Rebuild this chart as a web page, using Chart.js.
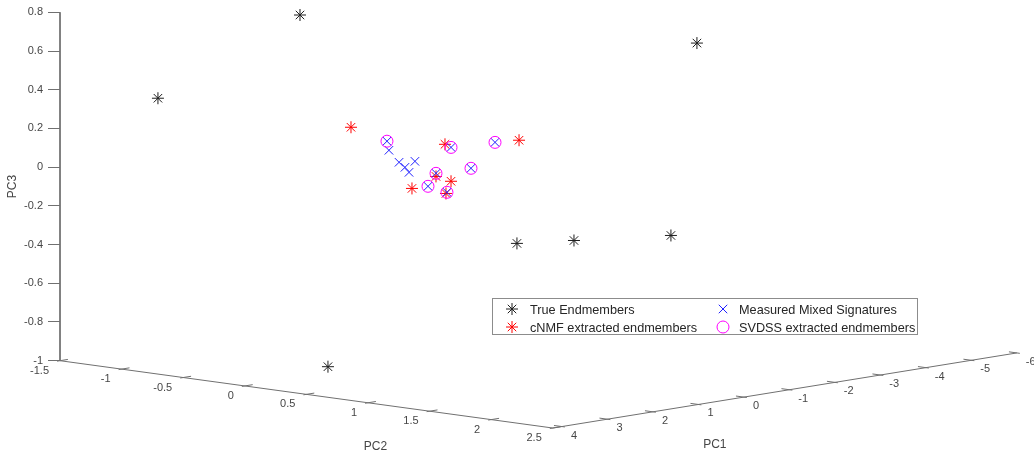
<!DOCTYPE html>
<html>
<head>
<meta charset="utf-8">
<script src="https://cdn.jsdelivr.net/npm/chart.js@4.4.1/dist/chart.umd.min.js"></script>
<style>
  html, body { margin: 0; padding: 0; background: #fff; }
  canvas { display: block; }
</style>
</head>
<body>
<canvas id="chart" width="1034" height="452"></canvas>
<script>
const FONT = '"Liberation Sans", Arial, sans-serif';
const AXIS_COLOR = '#707070';
const TEXT_COLOR = '#464646';

// axis limits and ticks
const pc1Range = [4.2, -6];
const pc2Range = [-1.5, 2.5];
const pc3Range = [-1, 0.8];
const pc1Ticks = [4, 3, 2, 1, 0, -1, -2, -3, -4, -5, -6];
const pc2Ticks = [-1.5, -1, -0.5, 0, 0.5, 1, 1.5, 2, 2.5];
const pc3Ticks = [-1, -0.8, -0.6, -0.4, -0.2, 0, 0.2, 0.4, 0.6, 0.8];

// points, in view coordinates:
// h = position along the PC2 front edge, v = height on the PC3 axis
const trueH = [0.448, -0.705, 0.675, 3.670, 2.209, 2.672, 3.459];
const trueV = [0.786, 0.356, -1.031, 0.641, -0.394, -0.379, -0.353];
const cnmfH = [0.862, 1.625, 2.226, 1.552, 1.674, 1.357, 1.633];
const cnmfV = [0.206, 0.118, 0.139, -0.048, -0.073, -0.110, -0.136];
const mixedH = [1.154, 1.170, 1.252, 1.300, 1.381, 1.333, 1.552, 1.487, 1.641, 1.674, 1.836, 2.031];
const mixedV = [0.134, 0.087, 0.025, -0.001, 0.030, -0.027, -0.032, -0.099, -0.130, 0.102, -0.006, 0.128];
const svdssH = [1.154, 1.674, 2.031, 1.836, 1.552, 1.487, 1.641];
const svdssV = [0.134, 0.102, 0.128, -0.006, -0.032, -0.099, -0.130];

// view: how one unit of PC1 / PC2 shifts on the page (in PC2 / PC3 units)
const PC1_H = 0.3693, PC1_V = 0.03804, PC2_V = 0.08696;

const proj = (pc1, pc2, pc3) => ({
  x: pc2 + (pc1Range[0] - pc1) * PC1_H,
  y: pc3 - (pc2 - pc2Range[0]) * PC2_V + (pc1Range[0] - pc1) * PC1_V
});

const toPoints = (hs, vs) => hs.map((h, i) => ({ x: h, y: vs[i] }));

// box edges: top of PC3 axis -> corner -> end of PC2 -> end of PC1
const frame = [
  proj(pc1Range[0], pc2Range[0], pc3Range[1]),
  proj(pc1Range[0], pc2Range[0], pc3Range[0]),
  proj(pc1Range[0], pc2Range[1], pc3Range[0]),
  proj(pc1Range[1], pc2Range[1], pc3Range[0])
];

const series = [
  { label: 'True Endmembers', h: trueH, v: trueV, style: 'star', color: '#1e1e1e', r: 6 },
  { label: 'cNMF extracted endmembers', h: cnmfH, v: cnmfV, style: 'star', color: '#ff0000', r: 6 },
  { label: 'Measured Mixed Signatures', h: mixedH, v: mixedV, style: 'crossRot', color: '#2020ff', r: 6 },
  { label: 'SVDSS extracted endmembers', h: svdssH, v: svdssV, style: 'circle', color: '#ff00ff', r: 6 }
];

const datasets = series.map((s, i) => ({
  label: s.label,
  data: toPoints(s.h, s.v),
  pointStyle: s.style,
  pointRadius: s.r,
  pointHoverRadius: s.r,
  pointBorderColor: s.color,
  pointBackgroundColor: 'rgba(0,0,0,0)',
  pointBorderWidth: 1,
  showLine: false,
  clip: false,
  order: series.length - i
}));

datasets.push({
  label: 'frame',
  data: frame,
  showLine: true,
  borderColor: AXIS_COLOR,
  borderWidth: 1,
  pointRadius: 0,
  clip: false,
  order: 10
});

const fmt = v => String(Math.round(v * 10) / 10);

// floor axes, their ticks, titles and the legend
const frame3d = {
  id: 'frame3d',
  afterDraw(chart) {
    const { ctx, scales: { x, y } } = chart;
    const px = p => ({ x: x.getPixelForValue(p.x), y: y.getPixelForValue(p.y) });
    const dir = (a, b) => {
      const dx = b.x - a.x, dy = b.y - a.y, l = Math.hypot(dx, dy);
      return { x: dx / l, y: dy / l };
    };
    const tick = (p, d) => {
      ctx.beginPath();
      ctx.moveTo(p.x - d.x * 3, p.y - d.y * 3);
      ctx.lineTo(p.x + d.x * 8, p.y + d.y * 8);
      ctx.stroke();
    };

    ctx.save();
    ctx.strokeStyle = AXIS_COLOR;
    ctx.lineWidth = 1;
    ctx.fillStyle = TEXT_COLOR;
    ctx.font = '11px ' + FONT;
    ctx.textBaseline = 'middle';

    // PC2 ticks point towards lower PC1, PC1 ticks towards lower PC2
    const toLowPc1 = dir(px(proj(pc1Range[0], 0, -1)), px(proj(pc1Range[1], 0, -1)));
    const toLowPc2 = dir(px(proj(0, pc2Range[1], -1)), px(proj(0, pc2Range[0], -1)));

    ctx.textAlign = 'right';
    pc2Ticks.forEach(t => {
      const p = px(proj(pc1Range[0], t, pc3Range[0]));
      tick(p, toLowPc1);
      ctx.fillText(fmt(t), p.x - 11, p.y + 10);
    });

    ctx.textAlign = 'left';
    pc1Ticks.forEach(t => {
      const p = px(proj(t, pc2Range[1], pc3Range[0]));
      tick(p, toLowPc2);
      ctx.fillText(fmt(t), p.x + 9, p.y + 9);
    });

    // axis titles
    ctx.font = '12px ' + FONT;
    ctx.textAlign = 'center';
    const m2 = px(proj(pc1Range[0], (pc2Range[0] + pc2Range[1]) / 2, pc3Range[0]));
    ctx.fillText('PC2', m2.x + 69, m2.y + 52);
    const m1 = px(proj((pc1Range[0] + pc1Range[1]) / 2, pc2Range[1], pc3Range[0]));
    ctx.fillText('PC1', m1.x - 70, m1.y + 54);
    ctx.save();
    ctx.translate(13, y.getPixelForValue((pc3Range[0] + pc3Range[1]) / 2));
    ctx.rotate(-Math.PI / 2);
    ctx.fillText('PC3', 0, 0);
    ctx.restore();

    // legend
    const box = { left: 492, top: 298, width: 425, height: 36 };
    ctx.fillStyle = '#ffffff';
    ctx.fillRect(box.left, box.top, box.width, box.height);
    ctx.strokeStyle = '#8c8c8c';
    ctx.strokeRect(box.left + 0.5, box.top + 0.5, box.width, box.height);
    const cols = [{ mark: 512, text: 530 }, { mark: 723, text: 739 }];
    const rows = [309, 327];
    ctx.font = '12.7px ' + FONT;
    ctx.textAlign = 'left';
    series.forEach((s, i) => {
      const c = cols[Math.floor(i / 2)], ry = rows[i % 2];
      ctx.strokeStyle = s.color;
      ctx.fillStyle = 'rgba(0,0,0,0)';
      ctx.lineWidth = 1;
      Chart.helpers.drawPoint(ctx, { pointStyle: s.style, radius: s.r, rotation: 0, borderWidth: 1 }, c.mark, ry);
      ctx.fillStyle = '#262626';
      ctx.fillText(s.label, c.text, ry + 1);
    });
    ctx.restore();
  }
};

new Chart(document.getElementById('chart'), {
  type: 'scatter',
  data: { datasets },
  options: {
    responsive: false,
    animation: false,
    events: [],
    layout: { padding: 0, autoPadding: false },
    plugins: { legend: { display: false }, tooltip: { enabled: false } },
    scales: {
      x: { type: 'linear', display: false, min: -1.5, max: 6.406 },
      y: {
        type: 'linear',
        min: -1.4717,
        max: 0.8635,
        afterBuildTicks: scale => { scale.ticks = pc3Ticks.map(value => ({ value })); },
        afterFit: scale => { scale.width = 60; scale.paddingTop = 0; scale.paddingBottom = 0; },
        border: { display: false },
        grid: { drawOnChartArea: false, drawTicks: true, tickLength: 12, color: AXIS_COLOR },
        ticks: {
          autoSkip: false,
          padding: 5,
          color: TEXT_COLOR,
          font: { family: FONT, size: 11 },
          callback: v => fmt(v)
        }
      }
    }
  },
  plugins: [frame3d]
});
</script>
</body>
</html>
